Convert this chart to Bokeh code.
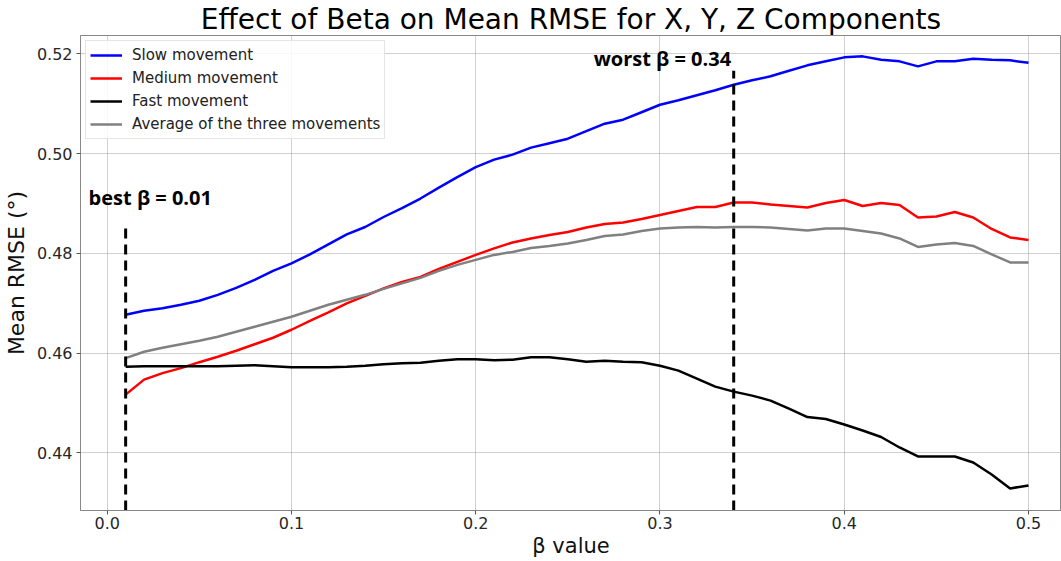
from bokeh.plotting import figure
from bokeh.models import Range1d, FixedTicker, NumeralTickFormatter, Label, ColumnDataSource
from bokeh.embed import file_html
from bokeh.resources import INLINE

beta = [0.01, 0.02, 0.03, 0.04, 0.05, 0.06, 0.07, 0.08, 0.09, 0.10,
        0.11, 0.12, 0.13, 0.14, 0.15, 0.16, 0.17, 0.18, 0.19, 0.20,
        0.21, 0.22, 0.23, 0.24, 0.25, 0.26, 0.27, 0.28, 0.29, 0.30,
        0.31, 0.32, 0.33, 0.34, 0.35, 0.36, 0.37, 0.38, 0.39, 0.40,
        0.41, 0.42, 0.43, 0.44, 0.45, 0.46, 0.47, 0.48, 0.49, 0.50]

slow = [0.4677, 0.4685, 0.4690, 0.4697, 0.4705, 0.4717, 0.4731, 0.4747, 0.4765, 0.4780,
        0.4798, 0.4818, 0.4838, 0.4853, 0.4873, 0.4891, 0.4910, 0.4932, 0.4953, 0.4973,
        0.4988, 0.4998, 0.5012, 0.5021, 0.5030, 0.5045, 0.5060, 0.5068, 0.5083, 0.5098,
        0.5107, 0.5117, 0.5127, 0.5138, 0.5147, 0.5155, 0.5166, 0.5177, 0.5185, 0.5193,
        0.5195, 0.5188, 0.5185, 0.5175, 0.5185, 0.5185, 0.5190, 0.5188, 0.5187, 0.5182]

medium = [0.4517, 0.4547, 0.4560, 0.4570, 0.4582, 0.4593, 0.4605, 0.4618, 0.4631, 0.4647,
          0.4665, 0.4682, 0.4700, 0.4715, 0.4730, 0.4743, 0.4753, 0.4769, 0.4783, 0.4797,
          0.4810, 0.4822, 0.4830, 0.4837, 0.4843, 0.4852, 0.4859, 0.4862, 0.4869, 0.4877,
          0.4885, 0.4893, 0.4893, 0.4902, 0.4902, 0.4898, 0.4895, 0.4892, 0.4901, 0.4907,
          0.4895, 0.4901, 0.4897, 0.4872, 0.4874, 0.4883, 0.4872, 0.4849, 0.4832, 0.4827]

fast = [0.4573, 0.4574, 0.4574, 0.4574, 0.4574, 0.4574, 0.4575, 0.4576, 0.4574, 0.4572,
        0.4572, 0.4572, 0.4573, 0.4575, 0.4578, 0.4580, 0.4581, 0.4585, 0.4588, 0.4588,
        0.4586, 0.4587, 0.4592, 0.4592, 0.4588, 0.4583, 0.4585, 0.4583, 0.4582, 0.4575,
        0.4565, 0.4549, 0.4533, 0.4523, 0.4515, 0.4505, 0.4489, 0.4472, 0.4468, 0.4457,
        0.4445, 0.4432, 0.4411, 0.4393, 0.4393, 0.4393, 0.4381, 0.4357, 0.4329, 0.4335]

average = [0.4590, 0.4603, 0.4611, 0.4618, 0.4625, 0.4633, 0.4643, 0.4653, 0.4663, 0.4673,
           0.4685, 0.4697, 0.4707, 0.4717, 0.4729, 0.4740, 0.4751, 0.4765, 0.4777, 0.4787,
           0.4797, 0.4803, 0.4811, 0.4815, 0.4820, 0.4827, 0.4835, 0.4838, 0.4845, 0.4850,
           0.4852, 0.4853, 0.4852, 0.4853, 0.4853, 0.4852, 0.4849, 0.4846, 0.4850, 0.4850,
           0.4845, 0.4840, 0.4830, 0.4813, 0.4818, 0.4821, 0.4815, 0.4798, 0.4782, 0.4782]

series_names = ["Slow movement", "Medium movement", "Fast movement",
                "Average of the three movements"]
series_colors = ["#0000ff", "#ff0000", "#000000", "#808080"]

marker_beta = [0.01, 0.34]
marker_top = [0.4855, 0.5166]
marker_text = ["best β = 0.01", "worst β = 0.34"]
marker_text_x = [-0.0101, 0.264]
marker_text_y = [0.49118, 0.51914]

x_ticks = [0.0, 0.1, 0.2, 0.3, 0.4, 0.5]
y_ticks = [0.44, 0.46, 0.48, 0.50, 0.52]

Y0, Y1 = 0.42847, 0.52368

p = figure(width=1061, height=561, output_backend="svg", toolbar_location=None,
           x_range=Range1d(-0.0145, 0.5179), y_range=Range1d(Y0, Y1),
           min_border_left=80, min_border_right=0, min_border_top=33, min_border_bottom=51,
           title="Effect of Beta on Mean RMSE for X, Y, Z Components")

p.title.text_font = "DejaVu Sans"
p.title.text_font_size = "28px"
p.title.text_font_style = "normal"
p.title.text_color = "black"
p.title.align = "center"
p.title.offset = 13
p.title.standoff = 0

p.outline_line_color = "#888888"
p.outline_line_width = 1
p.background_fill_color = "white"

for ax in (p.xaxis[0], p.yaxis[0]):
    ax.axis_line_color = "#888888"
    ax.major_tick_line_color = "#555555"
    ax.major_tick_out = 4
    ax.major_tick_in = 0
    ax.minor_tick_line_color = None
    ax.major_label_text_font = "DejaVu Sans"
    ax.major_label_text_font_size = "16px"
    ax.major_label_text_color = "#262626"
    ax.axis_label_text_font = "DejaVu Sans"
    ax.axis_label_text_font_style = "normal"
    ax.axis_label_text_color = "#111111"

p.xaxis.axis_label_text_font_size = "21px"
p.yaxis.axis_label_text_font_size = "22px"
p.xaxis.major_label_standoff = 2
p.xaxis.axis_label_standoff = 2
p.yaxis.major_label_standoff = 4
p.yaxis.axis_label_standoff = 5

p.xaxis.ticker = FixedTicker(ticks=x_ticks)
p.yaxis.ticker = FixedTicker(ticks=y_ticks)
p.xaxis.formatter = NumeralTickFormatter(format="0.0")
p.yaxis.formatter = NumeralTickFormatter(format="0.00")
p.xaxis.axis_label = "β value"
p.yaxis.axis_label = "Mean RMSE (°)"

p.xgrid.grid_line_color = "#b0b0b0"
p.ygrid.grid_line_color = "#b0b0b0"
p.xgrid.grid_line_alpha = 0.6
p.ygrid.grid_line_alpha = 0.6

for ys, name, col in zip([slow, medium, fast, average], series_names, series_colors):
    p.line(beta, ys, line_color=col, line_width=2.5, legend_label=name)

seg = ColumnDataSource(dict(x=marker_beta, y0=[Y0, Y0], y1=marker_top))
p.segment(x0="x", y0="y0", x1="x", y1="y1", source=seg, line_color="black",
          line_width=3, line_dash="10 6")

for t, tx, ty in zip(marker_text, marker_text_x, marker_text_y):
    p.add_layout(Label(x=tx, y=ty, text=t, text_font="Open Sans", text_font_style="bold",
                       text_font_size="20px", text_color="black",
                       text_baseline="middle", text_align="left"))

lg = p.legend[0]
lg.location = "top_left"
lg.margin = 5
lg.padding = 4
lg.spacing = 3
lg.label_height = 20
lg.glyph_height = 20
lg.glyph_width = 32
lg.label_standoff = 10
lg.label_text_font = "DejaVu Sans"
lg.label_text_font_size = "15px"
lg.label_text_color = "#222222"
lg.border_line_color = "#cccccc"
lg.border_line_width = 1
lg.background_fill_alpha = 0.85

open("out.html", "w").write(file_html(p, INLINE))
